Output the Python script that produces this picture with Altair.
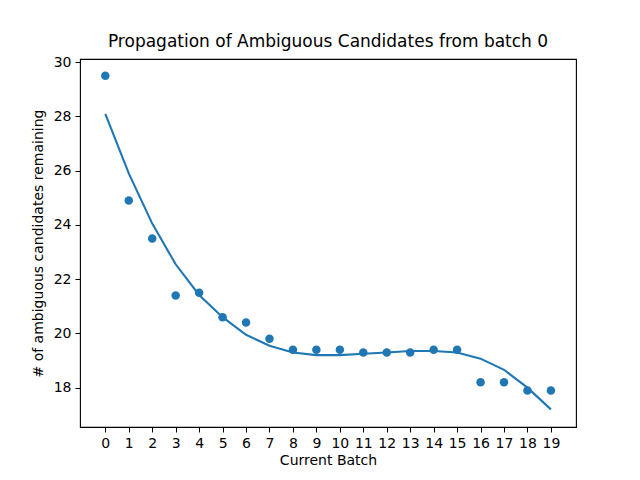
import altair as alt
import pandas as pd

batches = list(range(20))
remaining = [29.5, 24.9, 23.5, 21.4, 21.5, 20.6, 20.4, 19.8, 19.4, 19.4,
             19.4, 19.3, 19.3, 19.3, 19.4, 19.4, 18.2, 18.2, 17.9, 17.9]
fitted = [28.1, 25.9, 24.05, 22.55, 21.42, 20.6, 19.95, 19.55, 19.3, 19.2,
          19.2, 19.25, 19.3, 19.35, 19.35, 19.3, 19.07, 18.66, 18.0, 17.2]

df = pd.DataFrame({"batch": batches, "remaining": remaining, "fitted": fitted})

blue = "#1f77b4"
font = "DejaVu Sans"

x_scale = alt.Scale(domain=[-1.08, 20.07], nice=False, zero=False)
y_scale = alt.Scale(domain=[16.55, 30.12], nice=False, zero=False)

x_axis = alt.Axis(title="Current Batch", values=batches, grid=False, domain=False,
                  tickSize=5, tickColor="black", labelPadding=4, labelFontSize=14,
                  titleFontSize=14, titleFontWeight="normal", titlePadding=3,
                  labelColor="black", titleColor="black", labelFont=font,
                  titleFont=font, labelFlush=False, labelOverlap=False)
y_axis = alt.Axis(title="# of ambiguous candidates remaining", values=[18, 20, 22, 24, 26, 28, 30],
                  grid=False, domain=False, tickSize=5, tickColor="black", labelPadding=4,
                  labelFontSize=14, titleFontSize=14, titleFontWeight="normal",
                  titlePadding=8, labelColor="black", titleColor="black",
                  labelFont=font, titleFont=font, labelFlush=False, labelOverlap=False)

base = alt.Chart(df).encode(
    x=alt.X("batch:Q", scale=x_scale, axis=x_axis),
)

dots = base.mark_circle(size=72, opacity=1, color=blue).encode(
    y=alt.Y("remaining:Q", scale=y_scale, axis=y_axis),
)

fit_line = base.mark_line(color=blue, strokeWidth=2.1).encode(
    y=alt.Y("fitted:Q", scale=y_scale, axis=y_axis),
)

chart = (dots + fit_line).properties(
    width=496,
    height=368,
    title=alt.TitleParams("Propagation of Ambiguous Candidates from batch 0",
                          fontSize=17, fontWeight="normal", font=font,
                          color="black", offset=4),
    autosize=alt.AutoSizeParams(type="none"),
    padding={"left": 72, "top": 51, "right": 50, "bottom": 45},
).configure_view(stroke="black", strokeWidth=1.1)

chart.save("out.html", embed_options={"renderer": "svg", "actions": False})
